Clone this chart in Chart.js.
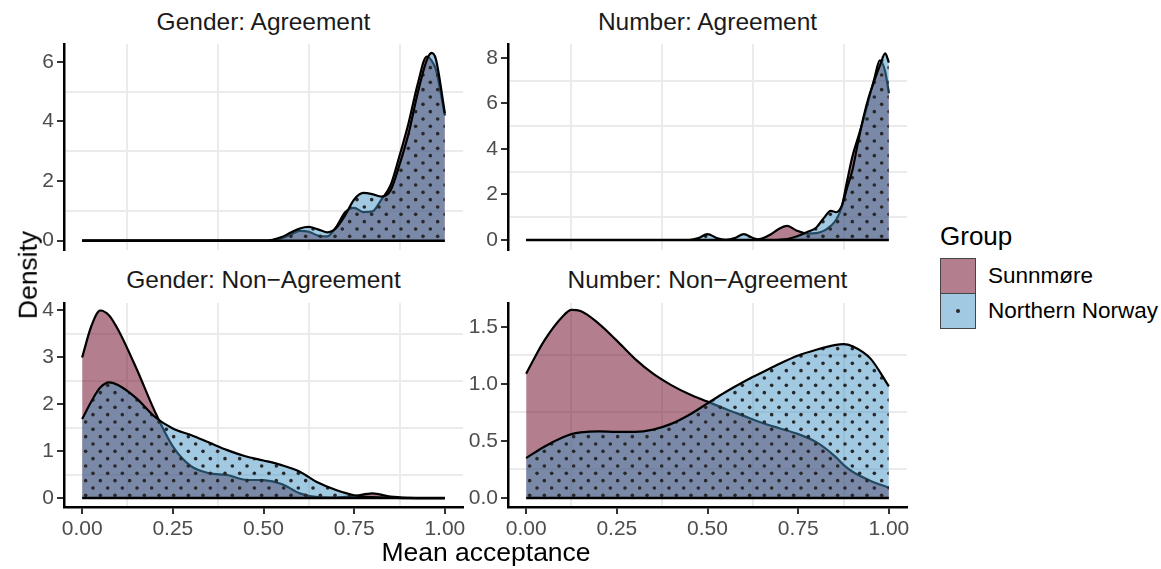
<!DOCTYPE html>
<html>
<head>
<meta charset="utf-8">
<script src="https://cdn.jsdelivr.net/npm/chart.js@4.4.0/dist/chart.umd.min.js"></script>
<style>
  body { margin: 0; width: 1161px; height: 569px; background: #fff; position: relative; overflow: hidden;
         font-family: "Liberation Sans", Arial, sans-serif; }
  canvas { position: absolute; }
  .strip { position: absolute; width: 399px; text-align: center; font-size: 24.5px; line-height: 1; color: #1a1a1a; white-space: nowrap; }
  .axis-title { position: absolute; font-size: 26.5px; line-height: 1; color: #000; white-space: nowrap; transform: translate(-50%, -50%); }
  .legend-title { position: absolute; left: 940px; top: 223px; font-size: 26px; line-height: 1; color: #000; }
  .key { position: absolute; left: 940px; width: 34px; height: 34px; border: 1px solid #444; }
  .key-label { position: absolute; left: 988px; font-size: 22.5px; line-height: 1; color: #000; white-space: nowrap; }
</style>
</head>
<body>
<div class="strip" id="t0" style="left:64px; top:10px;"></div>
<div class="strip" id="t1" style="left:508px; top:10px;"></div>
<div class="strip" id="t2" style="left:64px; top:268px;"></div>
<div class="strip" id="t3" style="left:508px; top:268px;"></div>

<canvas id="ga" width="454" height="238" style="left:24px; top:28px;"></canvas>
<canvas id="na" width="454" height="238" style="left:468px; top:28px;"></canvas>
<canvas id="gn" width="454" height="260" style="left:24px; top:287px;"></canvas>
<canvas id="nn" width="454" height="260" style="left:468px; top:287px;"></canvas>

<div class="axis-title" style="left:28px; top:275px; transform: translate(-50%, -50%) rotate(-90deg);">Density</div>
<div class="axis-title" style="left:486px; top:552px;">Mean acceptance</div>

<div class="legend-title">Group</div>
<div class="key" id="key0" style="top:258px;"></div>
<div class="key" id="key1" style="top:293px;"></div>
<div class="key-label" id="lab0" style="top:265px;"></div>
<div class="key-label" id="lab1" style="top:300px;"></div>

<script>
const groups = ["Sunnmøre", "Northern Norway"];
const panelTitles = ["Gender: Agreement", "Number: Agreement", "Gender: Non\u2212Agreement", "Number: Non\u2212Agreement"];

const xTickValues = [0, 0.25, 0.5, 0.75, 1];
const xTickLabels = ["0.00", "0.25", "0.50", "0.75", "1.00"];

// Gender: Agreement
const gaX = [0, 0.45, 0.5, 0.525, 0.55, 0.575, 0.6, 0.625, 0.65, 0.675, 0.7, 0.725, 0.75, 0.775, 0.8, 0.825, 0.85, 0.875, 0.9, 0.925, 0.95, 0.963, 0.975, 1];
const gaSunn = [0, 0, 0, 0.02, 0.08, 0.2, 0.33, 0.3, 0.17, 0.14, 0.45, 0.95, 1.1, 0.96, 0.98, 1.38, 1.85, 2.85, 3.95, 5.25, 6.18, 6.05, 5.75, 4.2];
const gaNorth = [0, 0, 0, 0.03, 0.12, 0.27, 0.41, 0.46, 0.38, 0.28, 0.42, 0.85, 1.38, 1.6, 1.56, 1.48, 1.68, 2.55, 3.6, 4.95, 6.05, 6.3, 6.1, 4.28];
const gaYTicks = [0, 2, 4, 6];
const gaYLabels = ["0", "2", "4", "6"];

// Number: Agreement
const naX = [0, 0.45, 0.475, 0.5, 0.525, 0.55, 0.575, 0.6, 0.625, 0.65, 0.675, 0.7, 0.72, 0.745, 0.775, 0.8, 0.82, 0.84, 0.855, 0.87, 0.885, 0.9, 0.915, 0.93, 0.945, 0.96, 0.975, 0.99, 1];
const naSunn = [0, 0, 0, 0, 0, 0, 0, 0, 0, 0.06, 0.25, 0.52, 0.62, 0.42, 0.28, 0.3, 0.4, 0.62, 0.9, 1.45, 2.6, 3.7, 4.5, 5.3, 6.2, 7.1, 7.9, 7.4, 6.45];
const naNorth = [0, 0, 0.08, 0.26, 0.09, 0.01, 0.08, 0.26, 0.09, 0.01, 0, 0.01, 0.04, 0.15, 0.35, 0.55, 0.95, 1.28, 1.22, 1.5, 2.3, 3.1, 4.3, 5.4, 6.3, 7.0, 7.65, 8.2, 7.8];
const naYTicks = [0, 2, 4, 6, 8];
const naYLabels = ["0", "2", "4", "6", "8"];

// Gender: Non-Agreement
const gnX = [0, 0.025, 0.05, 0.075, 0.1, 0.15, 0.2, 0.25, 0.3, 0.35, 0.4, 0.45, 0.5, 0.55, 0.6, 0.65, 0.7, 0.75, 0.8, 0.85, 0.9, 0.95, 1];
const gnSunn = [2.99, 3.65, 3.99, 3.88, 3.57, 2.75, 1.85, 1.1, 0.68, 0.53, 0.49, 0.39, 0.38, 0.3, 0.1, 0.02, 0.01, 0.04, 0.1, 0.03, 0.005, 0, 0];
const gnNorth = [1.68, 2.05, 2.35, 2.46, 2.4, 2.12, 1.73, 1.48, 1.34, 1.18, 1.02, 0.89, 0.8, 0.7, 0.56, 0.33, 0.17, 0.06, 0.02, 0.01, 0, 0, 0];
const gnYTicks = [0, 1, 2, 3, 4];
const gnYLabels = ["0", "1", "2", "3", "4"];

// Number: Non-Agreement
const nnX = [0, 0.05, 0.1, 0.125, 0.15, 0.2, 0.25, 0.3, 0.35, 0.4, 0.45, 0.5, 0.55, 0.6, 0.65, 0.7, 0.75, 0.8, 0.85, 0.875, 0.9, 0.95, 1];
const nnSunn = [1.09, 1.38, 1.59, 1.65, 1.64, 1.53, 1.38, 1.22, 1.09, 0.99, 0.91, 0.845, 0.78, 0.72, 0.66, 0.61, 0.56, 0.49, 0.37, 0.29, 0.23, 0.15, 0.09];
const nnNorth = [0.35, 0.45, 0.53, 0.56, 0.575, 0.585, 0.58, 0.58, 0.6, 0.65, 0.73, 0.83, 0.93, 1.02, 1.1, 1.18, 1.25, 1.3, 1.34, 1.35, 1.33, 1.22, 0.98];
const nnYTicks = [0, 0.5, 1, 1.5];
const nnYLabels = ["0.0", "0.5", "1.0", "1.5"];

const FONT = "'Liberation Sans', Arial, sans-serif";
const sunnFill = "rgba(103, 0, 31, 0.5)";
const northFill = "rgba(67, 147, 195, 0.5)";
const gridGrey = "#ebebeb";

// dotted fill for Northern Norway
function makeDots() {
  const c = document.createElement("canvas");
  c.width = 44;
  c.height = 44;
  const g = c.getContext("2d");
  g.fillStyle = northFill;
  g.fillRect(0, 0, 44, 44);
  g.fillStyle = "#282828";
  for (let j = 0; j < 6; j++) {
    for (let i = 0; i < 3; i++) {
      g.beginPath();
      g.arc(3 + i * 44 / 3 + (j % 2) * 22 / 3, 3 + j * 22 / 3, 1.8, 0, Math.PI * 2);
      g.fill();
    }
  }
  return g.createPattern(c, "repeat");
}
const dots = makeDots();

// major ticks carry labels, the midpoints carry the grid lines
function withMinor(values) {
  return scale => {
    const list = [];
    values.forEach((v, i) => {
      list.push({ value: v });
      if (i < values.length - 1) list.push({ value: (v + values[i + 1]) / 2, isMinor: true });
    });
    scale.ticks = list;
  };
}

function axis(values, labels, min, max, showLabels, size) {
  return {
    type: "linear",
    min, max,
    bounds: "data",
    afterBuildTicks: withMinor(values),
    afterFit: s => { if (s.isHorizontal()) s.height = size; else s.width = size; },
    ticks: {
      display: showLabels,
      autoSkip: false,
      maxRotation: 0,
      padding: 3,
      color: "#4d4d4d",
      font: { family: FONT, size: 21 },
      callback: v => {
        const k = values.indexOf(v);
        return k >= 0 ? labels[k] : "";
      }
    },
    grid: {
      lineWidth: 2,
      color: c => (c.tick && c.tick.isMinor) ? gridGrey : "rgba(0,0,0,0)",
      drawTicks: showLabels,
      tickLength: 7,
      tickWidth: 2,
      tickColor: c => (c.tick && c.tick.isMinor) ? "rgba(0,0,0,0)" : "#333"
    },
    border: { display: showLabels, color: "#000", width: 2.5 }
  };
}

function pts(xs, ys) {
  return xs.map((x, i) => ({ x, y: ys[i] }));
}

function makePanel(id, xs, sunn, north, yTicks, yLabels, yMin, yMax, bottomRow) {
  new Chart(document.getElementById(id), {
    type: "line",
    data: {
      datasets: [
        {
          label: groups[0], data: pts(xs, sunn), order: 2,
          borderColor: "#000", borderWidth: 2.2, backgroundColor: sunnFill, fill: "origin"
        },
        {
          label: groups[1], data: pts(xs, north), order: 1,
          borderColor: "#000", borderWidth: 2.2, backgroundColor: dots, fill: "origin"
        },
        {
          label: "baseline", data: xs.map(x => ({ x, y: 0 })), order: 0,
          borderColor: "#000", borderWidth: 2.5, fill: false
        }
      ]
    },
    options: {
      responsive: false,
      animation: false,
      devicePixelRatio: 1,
      layout: { padding: { top: 16, right: 15, bottom: bottomRow ? 0 : 16, left: 0 } },
      elements: { point: { radius: 0 }, line: { cubicInterpolationMode: "monotone" } },
      plugins: { legend: { display: false }, tooltip: { enabled: false } },
      scales: {
        x: axis(xTickValues, xTickLabels, -0.05, 1.05, bottomRow, bottomRow ? 40 : 0),
        y: Object.assign(axis(yTicks, yLabels, yMin, yMax, true, 40), { position: "left" })
      }
    }
  });
}

makePanel("ga", gaX, gaSunn, gaNorth, gaYTicks, gaYLabels, -0.314, 6.6, false);
makePanel("na", naX, naSunn, naNorth, naYTicks, naYLabels, -0.44, 8.615, false);
makePanel("gn", gnX, gnSunn, gnNorth, gnYTicks, gnYLabels, -0.19, 4.15, true);
makePanel("nn", nnX, nnSunn, nnNorth, nnYTicks, nnYLabels, -0.079, 1.71, true);

panelTitles.forEach((t, i) => { document.getElementById("t" + i).textContent = t; });
groups.forEach((g, i) => { document.getElementById("lab" + i).textContent = g; });

// legend keys
document.getElementById("key0").style.background = sunnFill;
const k1 = document.getElementById("key1");
k1.style.background = northFill;
k1.innerHTML = '<div style="position:absolute;left:15px;top:15px;width:4px;height:4px;border-radius:2px;background:#282828;"></div>';
</script>
</body>
</html>
